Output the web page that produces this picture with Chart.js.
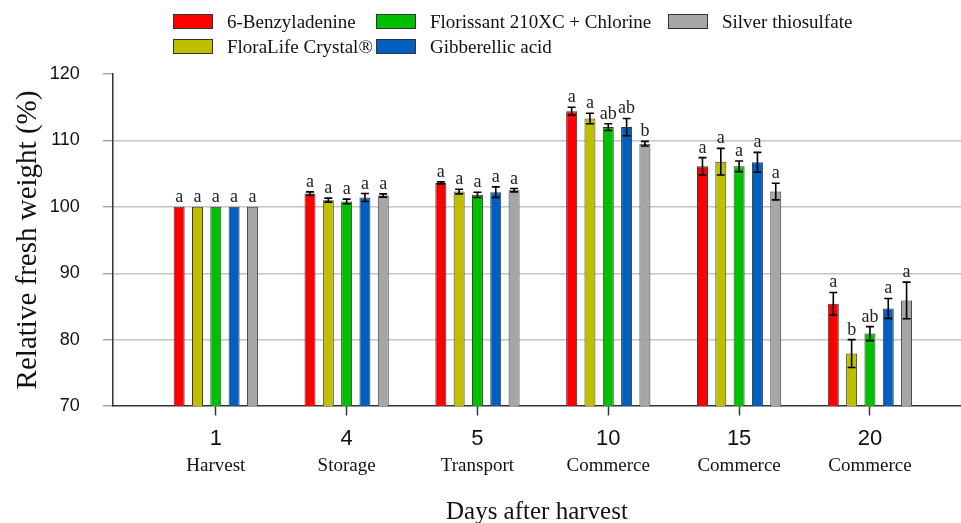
<!DOCTYPE html>
<html>
<head>
<meta charset="utf-8">
<script src="https://cdn.jsdelivr.net/npm/chart.js@4.4.1/dist/chart.umd.min.js"></script>
<style>
  html, body { margin: 0; padding: 0; background: #fff; }
  #wrap { position: relative; width: 961px; height: 523px; }
  #wrap canvas { position: absolute; left: 0; top: 0; }
  #legend {
    position: absolute; left: 173px; top: 9px;
    display: grid; grid-auto-flow: column;
    grid-template-rows: 25px 25px;
    grid-template-columns: 203px 292px 220px;
    font: 19px "Liberation Serif", serif; color: #111;
  }
  #legend .item { display: flex; align-items: center; white-space: nowrap; }
  #legend .box {
    width: 40px; height: 15px; box-sizing: border-box;
    border: 1px solid #333; margin-right: 14px;
  }
</style>
</head>
<body>
<div id="wrap">
  <canvas id="chart" width="961" height="523"></canvas>
  <div id="legend"></div>
</div>
<script>
/* ---- data ---- */
const days   = ["1", "4", "5", "10", "15", "20"];
const stages = ["Harvest", "Storage", "Transport", "Commerce", "Commerce", "Commerce"];

const benzyladenine = [100, 102.0, 103.6, 114.4, 106.1, 85.4];
const floralife     = [100, 101.0, 102.3, 113.3, 106.8, 77.9];
const florissant    = [100, 100.8, 101.8, 112.0, 106.1, 80.9];
const gibberellic   = [100, 101.4, 102.2, 112.0, 106.7, 84.7];
const silver        = [100, 101.7, 102.5, 109.5, 102.3, 85.9];

const benzyladenineErr = [0, 0.25, 0.15, 0.6, 1.3, 1.7];
const floralifeErr     = [0, 0.3, 0.35, 0.8, 2.0, 2.1];
const florissantErr    = [0, 0.35, 0.4, 0.5, 0.8, 1.05];
const gibberellicErr   = [0, 0.6, 0.8, 1.3, 1.5, 1.5];
const silverErr        = [0, 0.25, 0.25, 0.35, 1.25, 2.75];

const benzyladenineSig = ["a", "a", "a", "a", "a", "a"];
const floralifeSig     = ["a", "a", "a", "a", "a", "b"];
const florissantSig    = ["a", "a", "a", "ab", "a", "ab"];
const gibberellicSig   = ["a", "a", "a", "ab", "a", "a"];
const silverSig        = ["a", "a", "a", "b", "a", "a"];

const yTicks = [70, 80, 90, 100, 110, 120];

const SERIF = "'Liberation Serif', 'Times New Roman', serif";
const SANS  = "'Liberation Sans', Arial, sans-serif";

const series = [
  { label: "6-Benzyladenine",             values: benzyladenine, err: benzyladenineErr, sig: benzyladenineSig, color: "#FF0000" },
  { label: "FloraLife Crystal®",          values: floralife,     err: floralifeErr,     sig: floralifeSig,     color: "#BFBF00" },
  { label: "Florissant 210XC + Chlorine", values: florissant,    err: florissantErr,    sig: florissantSig,    color: "#00BF00" },
  { label: "Gibberellic acid",            values: gibberellic,   err: gibberellicErr,   sig: gibberellicSig,   color: "#005FBF" },
  { label: "Silver thiosulfate",          values: silver,        err: silverErr,        sig: silverSig,        color: "#A6A6A6" }
];

/* ---- legend (column-major, like the figure) ---- */
const legendEl = document.getElementById("legend");
series.forEach(s => {
  const item = document.createElement("div");
  item.className = "item";
  const box = document.createElement("span");
  box.className = "box";
  box.style.background = s.color;
  item.appendChild(box);
  item.appendChild(document.createTextNode(s.label));
  legendEl.appendChild(item);
});

/* ---- error bars + significance letters ---- */
const errorBars = {
  id: "errorBars",
  afterDatasetsDraw(chart) {
    const { ctx } = chart;
    const y = chart.scales.y;
    ctx.save();
    ctx.strokeStyle = "#000";
    ctx.lineWidth = 1.6;
    ctx.fillStyle = "#222";
    ctx.font = "18px " + SERIF;
    ctx.textAlign = "center";
    ctx.textBaseline = "alphabetic";
    chart.data.datasets.forEach((ds, di) => {
      const meta = chart.getDatasetMeta(di);
      meta.data.forEach((bar, i) => {
        const v = ds.data[i].y;
        const e = ds.errors[i];
        const top = y.getPixelForValue(v + e);
        const bot = y.getPixelForValue(v - e);
        if (e > 0) {
          ctx.beginPath();
          ctx.moveTo(bar.x, top); ctx.lineTo(bar.x, bot);
          ctx.moveTo(bar.x - 4, top); ctx.lineTo(bar.x + 4, top);
          ctx.moveTo(bar.x - 4, bot); ctx.lineTo(bar.x + 4, bot);
          ctx.stroke();
        }
        ctx.fillText(ds.letters[i], bar.x, top - 5);
      });
    });
    ctx.restore();
  }
};

const xMin = -0.787, xMax = 5.696;
const dayTicks = s => { s.ticks = days.map((_, i) => ({ value: i })); };

new Chart(document.getElementById("chart"), {
  type: "bar",
  data: {
    datasets: series.map(s => ({
      label: s.label,
      data: s.values.map((v, i) => ({ x: i, y: v })),
      errors: s.err,
      letters: s.sig,
      backgroundColor: s.color,
      borderColor: "#3a3a3a",
      borderWidth: 1,
      borderSkipped: "bottom",
      categoryPercentage: 0.7,
      barPercentage: 0.6
    }))
  },
  options: {
    responsive: false,
    animation: false,
    layout: { padding: { top: 74, right: 0, bottom: 0, left: 0 } },
    plugins: { legend: { display: false }, tooltip: { enabled: false } },
    scales: {
      x: {
        type: "linear", min: xMin, max: xMax, weight: 0, offset: false,
        afterBuildTicks: dayTicks,
        // long tick box keeps the numbers low; the dash shows only a short mark
        grid: {
          offset: false, drawOnChartArea: false, drawTicks: true,
          tickLength: 24.2, tickColor: "#333", tickWidth: 1.5,
          tickBorderDash: [9, 200]
        },
        border: { display: true, color: "#333", width: 1.5 },
        ticks: {
          padding: 0, color: "#111",
          font: { family: SANS, size: 22, lineHeight: 0.8 },
          callback: v => days[v]
        }
      },
      x2: {
        type: "linear", position: "bottom", min: xMin, max: xMax, weight: 1, offset: false,
        afterBuildTicks: dayTicks,
        grid: { display: false, drawTicks: false, offset: false },
        border: { display: false },
        ticks: {
          padding: 8.25, color: "#111",
          font: { family: SERIF, size: 19, lineHeight: 1.1 },
          callback: v => stages[v]
        },
        title: {
          display: true, text: "Days after harvest", color: "#111",
          font: { family: SERIF, size: 25, lineHeight: 1 },
          padding: { top: 14.8, bottom: -2 }
        }
      },
      y: {
        min: 70, max: 120,
        afterBuildTicks: s => { s.ticks = yTicks.map(v => ({ value: v })); },
        grid: {
          color: c => (c.tick && (c.tick.value === 70 || c.tick.value === 120)) ? "rgba(0,0,0,0)" : "#C4C4C4",
          tickColor: "#A0A0A0",
          lineWidth: 1.4, tickLength: 10
        },
        border: { display: true, color: "#333", width: 1.5 },
        ticks: {
          padding: 23, color: "#111",
          font: { family: SANS, size: 18 }
        },
        title: {
          display: true, text: "Relative fresh weight (%)", color: "#111",
          font: { family: SERIF, size: 29, lineHeight: 1.2 },
          padding: { top: 11, bottom: -19 }
        }
      }
    }
  },
  plugins: [errorBars]
});
</script>
</body>
</html>
